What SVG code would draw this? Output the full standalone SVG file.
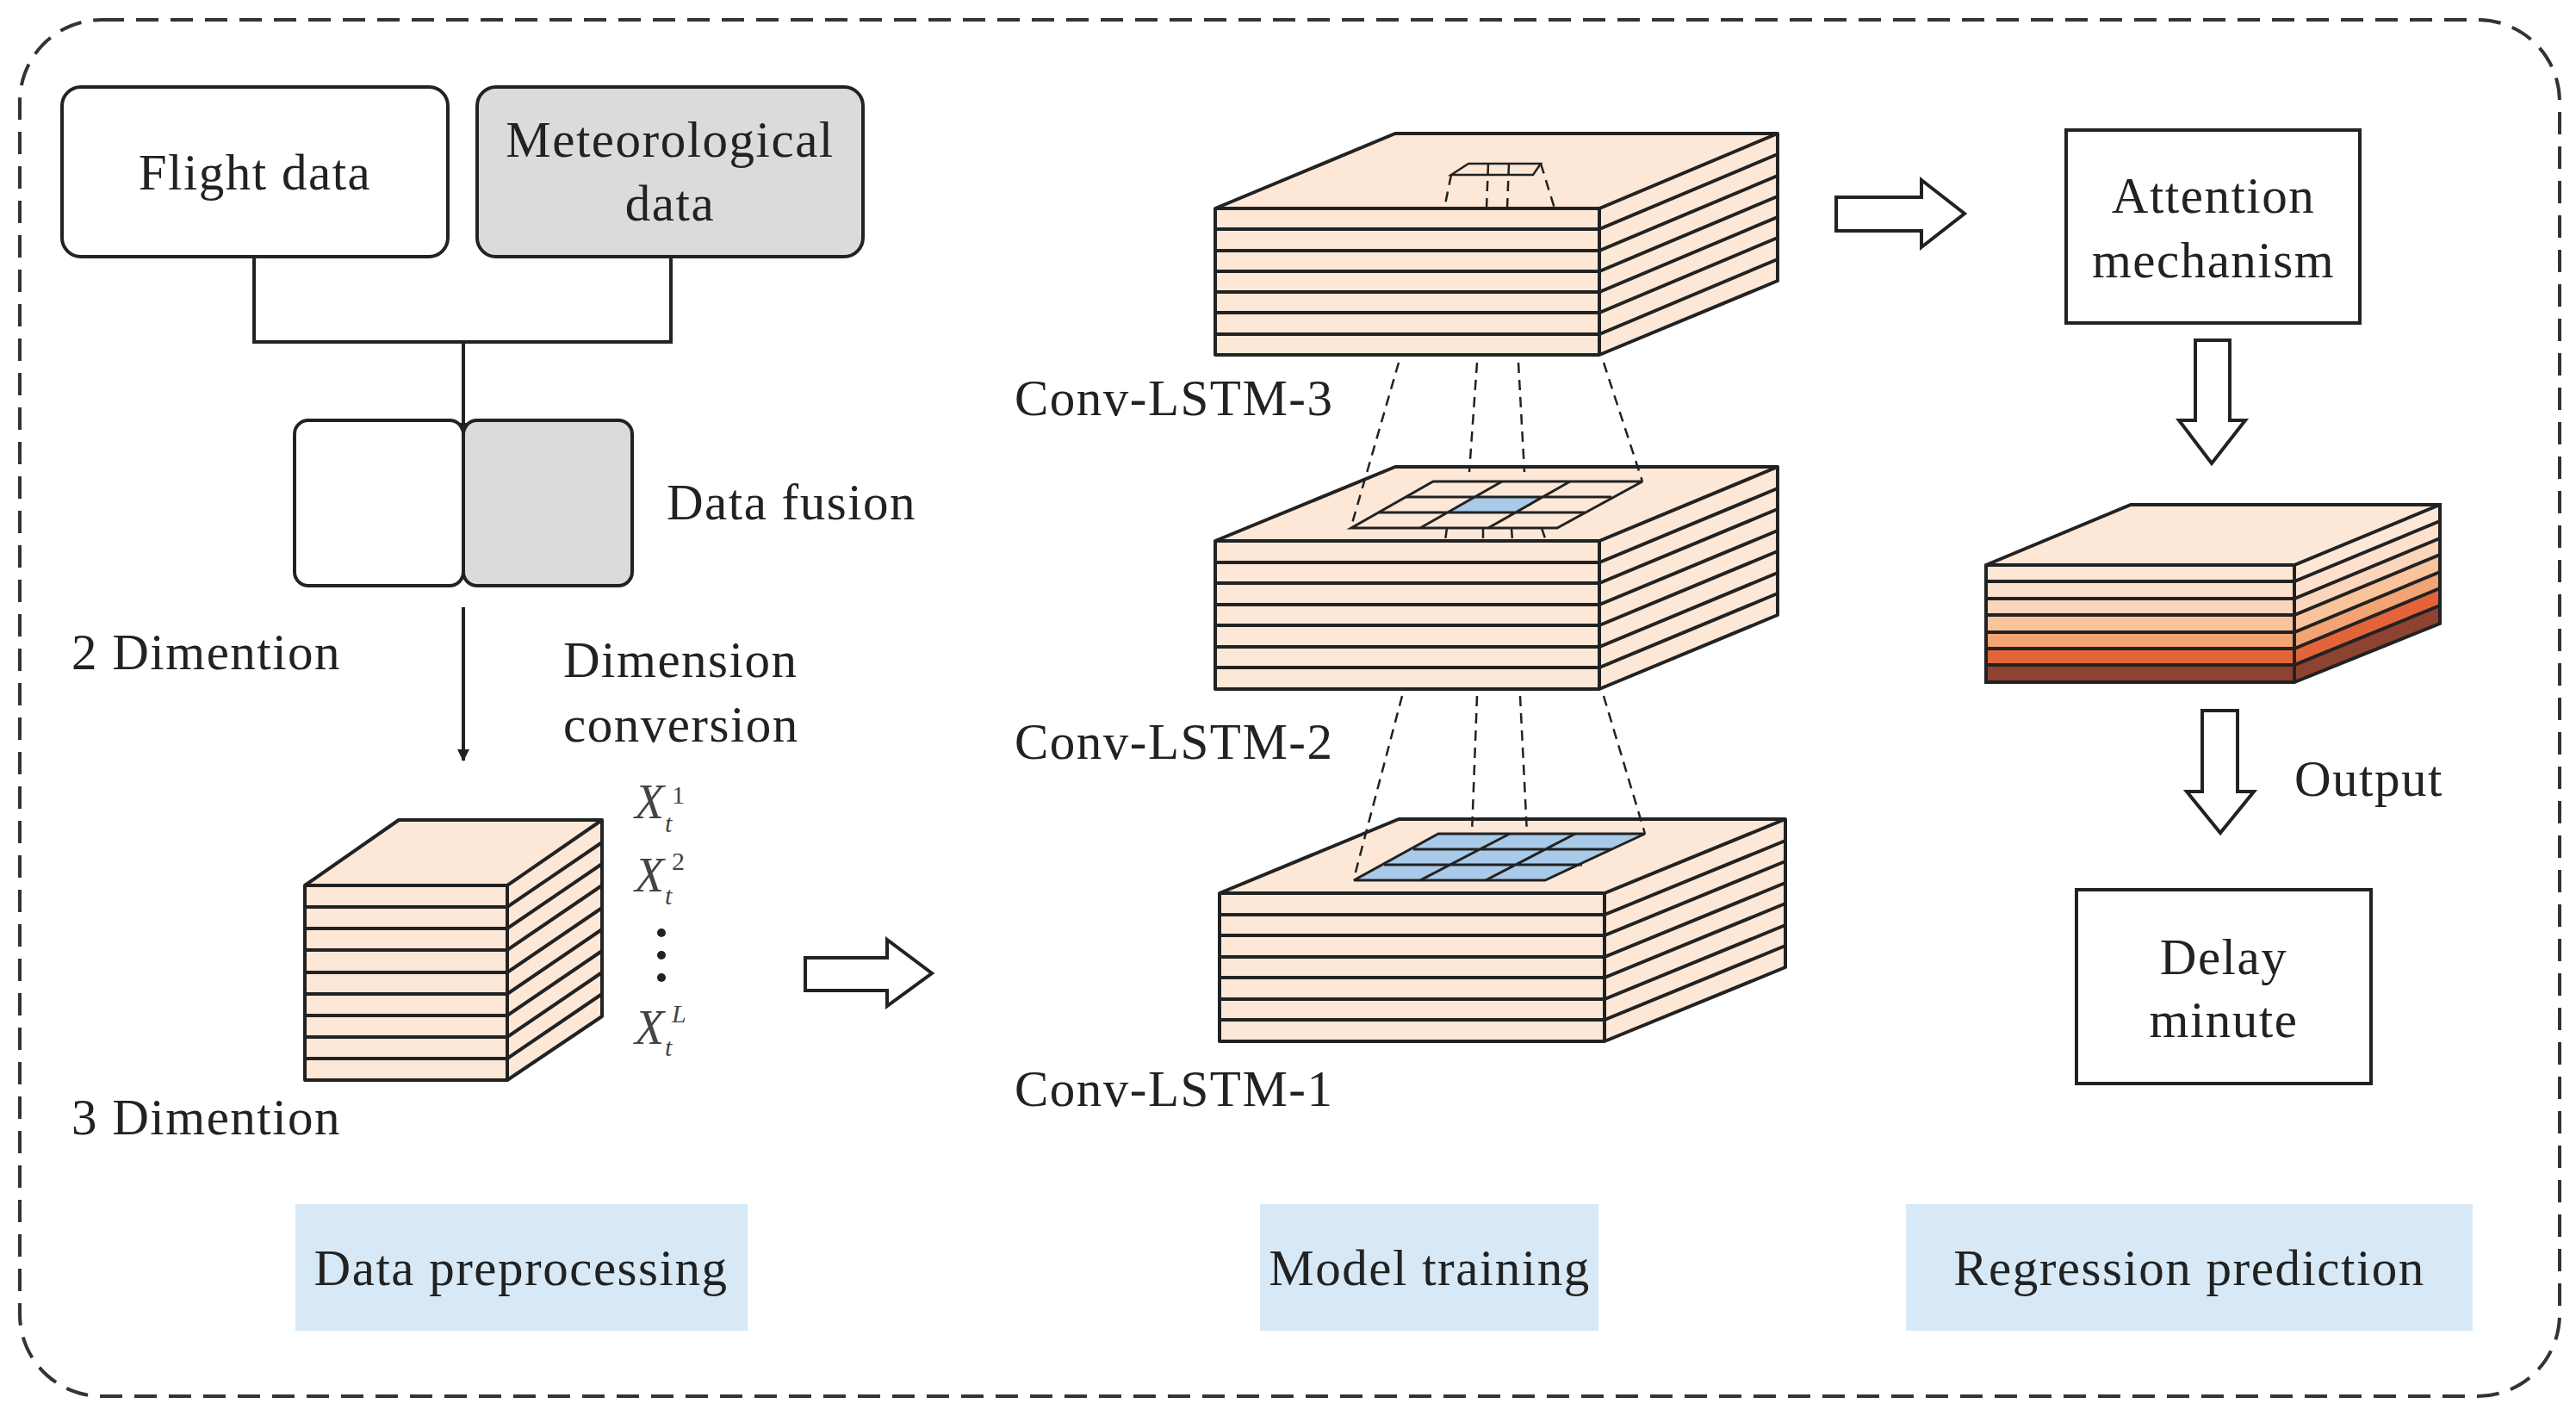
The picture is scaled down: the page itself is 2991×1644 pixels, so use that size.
<svg xmlns="http://www.w3.org/2000/svg" width="2991" height="1644" viewBox="0 0 2991 1644">
<style>
text{font-family:"Liberation Serif","Times New Roman",serif;font-size:59px;letter-spacing:1.5px;fill:#222}
.b{fill:#fde8d8;stroke:#222;stroke-width:4;stroke-linejoin:round}
.l{stroke:#222;stroke-width:4;fill:none}
.d{stroke:#222;stroke-width:2.5;fill:none;stroke-dasharray:12,8}
.g{fill:#a9cbe9;stroke:#222;stroke-width:3}
.bl{fill:#d7e9f6}
.h{fill:#fff;stroke:#222;stroke-width:4}
.it{font-style:italic}
.x{font-style:italic;font-size:56px;fill:#444;letter-spacing:0}
.s{font-size:30px;fill:#444;letter-spacing:0}
</style>
<defs>
<marker id="ah" markerWidth="14" markerHeight="14" refX="13" refY="7" orient="auto" markerUnits="userSpaceOnUse" viewBox="0 0 14 14"><path d="M0,0 L14,7 L0,14 z" fill="#222"/></marker>
</defs>
<rect x="23" y="23" width="2949" height="1598" rx="95" fill="#fff" stroke="#333" stroke-width="4" stroke-dasharray="26,14"/>

<g id="flight"><rect x="72" y="101" width="448" height="197" rx="22" fill="#fff" stroke="#222" stroke-width="4"/><text x="296" y="220" text-anchor="middle">Flight data</text></g>
<g id="met"><rect x="554" y="101" width="448" height="197" rx="22" fill="#dadcdb" stroke="#222" stroke-width="4"/><text x="778" y="182" text-anchor="middle">Meteorological</text><text x="778" y="256" text-anchor="middle">data</text></g>
<g id="fusion"><rect x="342" y="488" width="196" height="192" rx="16" fill="#fff" stroke="#222" stroke-width="4"/><rect x="538" y="488" width="196" height="192" rx="16" fill="#dadcdb" stroke="#222" stroke-width="4"/><text x="774" y="603">Data fusion</text></g>
<text x="83" y="777">2 Dimention</text>
<text x="654" y="786">Dimension</text><text x="654" y="861">conversion</text>

<g id="cube">
<path class="b" d="M354,1028 L463,952 L699,952 L699,1180 L589,1254 L354,1254 z"/>
<path class="l" d="M354,1028 L589,1028 L699,952 M589,1028 L589,1254"/>
<path class="l" d="M354,1053 L589,1053 L699,978 M354,1078 L589,1078 L699,1003 M354,1103 L589,1103 L699,1028 M354,1129 L589,1129 L699,1054 M354,1154 L589,1154 L699,1079 M354,1179 L589,1179 L699,1104 M354,1204 L589,1204 L699,1129 M354,1229 L589,1229 L699,1154"/>
<text class="x" x="737" y="950">X</text><text class="s" x="780" y="933">1</text><text class="s it" x="772" y="966">t</text>
<text class="x" x="737" y="1035">X</text><text class="s" x="780" y="1010">2</text><text class="s it" x="772" y="1050">t</text>
<circle cx="768" cy="1083" r="5" fill="#222"/><circle cx="768" cy="1109" r="5" fill="#222"/><circle cx="768" cy="1135" r="5" fill="#222"/>
<text class="x" x="737" y="1212">X</text><text class="s it" x="780" y="1187">L</text><text class="s it" x="772" y="1226">t</text>
</g>
<text x="83" y="1317">3 Dimention</text>

<g id="conns">
<path class="l" d="M295,298 L295,397 L779,397 L779,298 M538,397 L538,504" marker-end="url(#ah)"/>
<path class="l" d="M538,705 L538,883" marker-end="url(#ah)"/>
<path class="h" d="M935,1112 L1030,1112 L1030,1091 L1082,1130 L1030,1168 L1030,1150 L935,1150 z"/>
<path class="h" d="M2132,229 L2231,229 L2231,209 L2281,248 L2231,287 L2231,268 L2132,268 z"/>
<path class="h" d="M2549,395 L2589,395 L2589,488 L2607,488 L2568,538 L2530,488 L2549,488 z"/>
<path class="h" d="M2557,825 L2598,825 L2598,919 L2617,919 L2578,967 L2539,919 L2557,919 z"/>
</g>

<g id="lstm3">
<path class="b" d="M1411,242 L1620,155 L2064,155 L2064,326 L1857,412 L1411,412 z"/>
<path class="l" d="M1411,242 L1857,242 L2064,155 M1857,242 L1857,412"/>
<path class="l" d="M1411,266 L1857,266 L2064,179 M1411,291 L1857,291 L2064,204 M1411,315 L1857,315 L2064,228 M1411,339 L1857,339 L2064,252 M1411,363 L1857,363 L2064,276 M1411,388 L1857,388 L2064,301"/>
<path d="M1685,203 L1705,190 L1789,190 L1780,203 z" fill="#fde8d8" stroke="#222" stroke-width="2.5"/>
<path class="d" d="M1685,203 L1677,242 M1728,190 L1726,242 M1752,190 L1750,242 M1789,190 L1805,242"/>
</g>
<text x="1178" y="482">Conv-LSTM-3</text>

<g id="lstm2">
<path class="b" d="M1411,628 L1620,542 L2064,542 L2064,714 L1857,800 L1411,800 z"/>
<path class="l" d="M1411,628 L1857,628 L2064,542 M1857,628 L1857,800"/>
<path class="l" d="M1411,653 L1857,653 L2064,567 M1411,677 L1857,677 L2064,591 M1411,702 L1857,702 L2064,616 M1411,726 L1857,726 L2064,640 M1411,751 L1857,751 L2064,665 M1411,775 L1857,775 L2064,689"/>
<path d="M1569,613 L1808,613 L1907,559 L1664,559 z" fill="#fde8d8" stroke="#222" stroke-width="3"/>
<path d="M1681,595 L1760,595 L1792,577 L1712,577 z" fill="#a9cbe9"/>
<path d="M1601,595 L1840,595 M1632,577 L1871,577 M1649,613 L1744,559 M1728,613 L1823,559" fill="none" stroke="#222" stroke-width="3"/>
<path class="d" d="M1624,421 L1569,611 M1715,421 L1706,548 M1763,421 L1770,548 M1862,421 L1907,559"/>
<path class="d" d="M1680,613 L1678,628 M1722,613 L1722,628 M1755,613 L1756,628 M1790,613 L1795,628"/>
</g>
<text x="1178" y="881">Conv-LSTM-2</text>

<g id="lstm1">
<path class="b" d="M1416,1037 L1624,951 L2073,951 L2073,1123 L1863,1209 L1416,1209 z"/>
<path class="l" d="M1416,1037 L1863,1037 L2073,951 M1863,1037 L1863,1209"/>
<path class="l" d="M1416,1062 L1863,1062 L2073,976 M1416,1086 L1863,1086 L2073,1000 M1416,1111 L1863,1111 L2073,1025 M1416,1135 L1863,1135 L2073,1049 M1416,1160 L1863,1160 L2073,1074 M1416,1184 L1863,1184 L2073,1098"/>
<path class="g" d="M1572,1022 L1794,1022 L1910,968 L1670,968 z"/>
<path d="M1607,1004 L1837,1004 M1641,986 L1871,986 M1649,1022 L1753,968 M1725,1022 L1829,968" fill="none" stroke="#222" stroke-width="3"/>
<path class="d" d="M1628,808 L1572,1020 M1715,808 L1709,968 M1765,808 L1773,968 M1862,808 L1910,968"/>
</g>
<text x="1178" y="1284">Conv-LSTM-1</text>

<g id="attn"><rect x="2399" y="151" width="341" height="224" fill="#fff" stroke="#222" stroke-width="4"/><text x="2570" y="247" text-anchor="middle">Attention</text><text x="2570" y="322" text-anchor="middle">mechanism</text></g>

<g id="outstack">
<rect x="2306" y="656" width="358" height="20" fill="#fde8d8"/>
<rect x="2306" y="675" width="358" height="20" fill="#fde1cd"/>
<rect x="2306" y="695" width="358" height="20" fill="#fcd6bc"/>
<rect x="2306" y="714" width="358" height="20" fill="#f9c39c"/>
<rect x="2306" y="734" width="358" height="20" fill="#f2a474"/>
<rect x="2306" y="753" width="358" height="20" fill="#e4643a"/>
<rect x="2306" y="772" width="358" height="20" fill="#8e4230"/>
<path d="M2306,656 L2474,586 L2833,586 L2664,656 z" fill="#fde8d8"/>
<path d="M2664,656 L2833,586 L2833,605 L2664,675 z" fill="#fde8d8"/>
<path d="M2664,675 L2833,605 L2833,625 L2664,695 z" fill="#fde1cd"/>
<path d="M2664,695 L2833,625 L2833,644 L2664,714 z" fill="#fcd6bc"/>
<path d="M2664,714 L2833,644 L2833,664 L2664,734 z" fill="#f9c39c"/>
<path d="M2664,734 L2833,664 L2833,683 L2664,753 z" fill="#f2a474"/>
<path d="M2664,753 L2833,683 L2833,703 L2664,772 z" fill="#e4643a"/>
<path d="M2664,772 L2833,703 L2833,724 L2664,792 z" fill="#8e4230"/>
<path class="l" d="M2306,656 L2474,586 L2833,586 L2833,724 L2664,792 L2306,792 z M2306,656 L2664,656 L2833,586 M2664,656 L2664,792"/>
<path class="l" d="M2306,675 L2664,675 L2833,605 M2306,695 L2664,695 L2833,625 M2306,714 L2664,714 L2833,644 M2306,734 L2664,734 L2833,664 M2306,753 L2664,753 L2833,683 M2306,772 L2664,772 L2833,703"/>
</g>
<text x="2664" y="924">Output</text>
<g id="delay"><rect x="2411" y="1033" width="342" height="225" fill="#fff" stroke="#222" stroke-width="4"/><text x="2582" y="1131" text-anchor="middle">Delay</text><text x="2582" y="1204" text-anchor="middle">minute</text></g>

<g id="lab1"><rect class="bl" x="343" y="1398" width="525" height="147"/><text x="605" y="1492" text-anchor="middle">Data preprocessing</text></g>
<g id="lab2"><rect class="bl" x="1463" y="1398" width="393" height="147"/><text x="1660" y="1492" text-anchor="middle">Model training</text></g>
<g id="lab3"><rect class="bl" x="2213" y="1398" width="658" height="147"/><text x="2542" y="1492" text-anchor="middle">Regression prediction</text></g>
</svg>
